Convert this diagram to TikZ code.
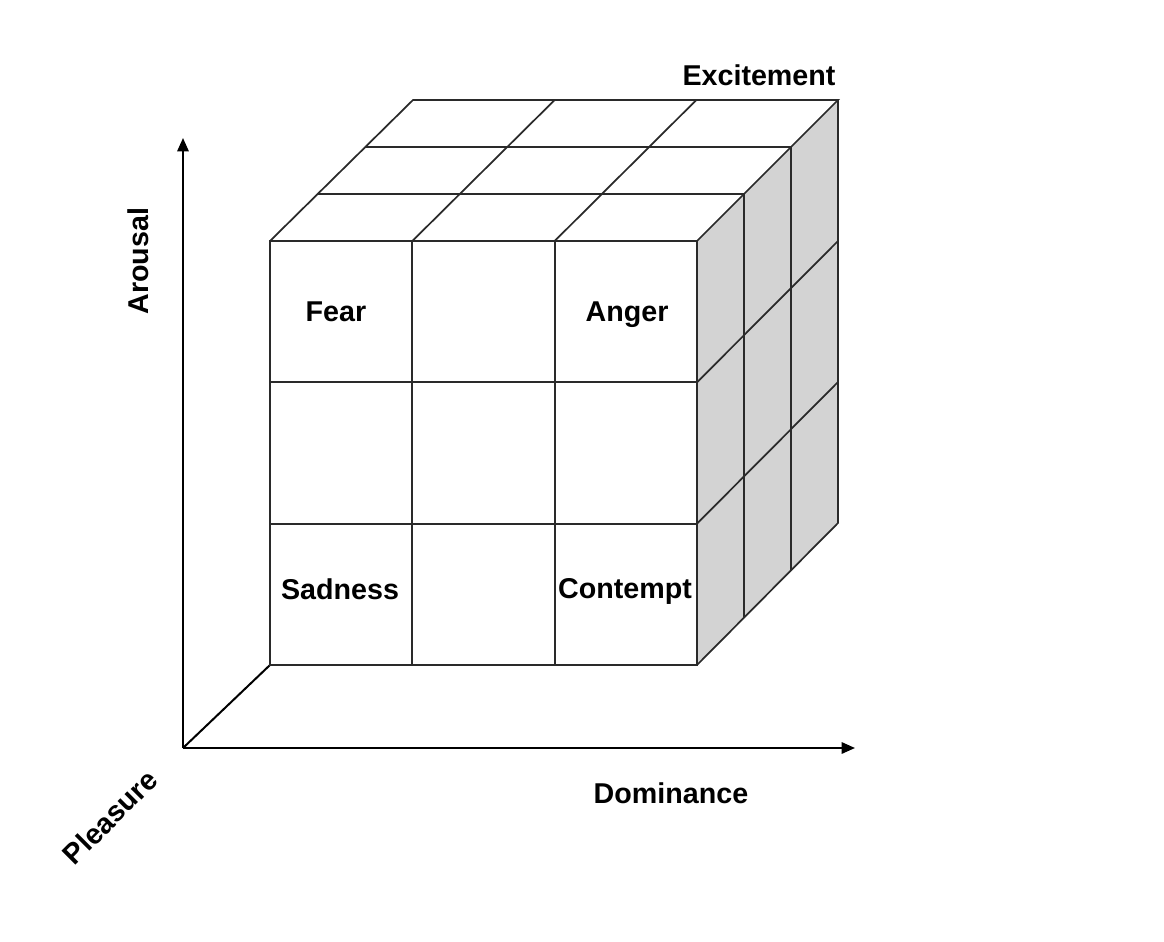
\documentclass[tikz,border=0pt]{standalone}
\usepackage{fontspec}
\setmainfont{Liberation Sans}
\usetikzlibrary{arrows.meta,calc}
\definecolor{side}{HTML}{D3D3D3}
\definecolor{edge}{HTML}{2A2A2A}
\begin{document}
\begin{tikzpicture}[x=0.75pt,y=-0.75pt,
  cube/.style={line width=1.3pt, draw=edge, line join=miter},
  axisline/.style={line width=1.5pt, draw=black, -{Triangle[length=10pt,width=8.5pt]}},
  lbl/.style={font=\bfseries\fontsize{21.5}{25}\selectfont, inner sep=0pt},
  blbl/.style={lbl, anchor=base}]
\useasboundingbox (0,0) rectangle (1164,942);
% cube corners
\coordinate (A) at (270,241);
\coordinate (B) at (697,241);
\coordinate (C) at (697,665);
\coordinate (D) at (270,665);
\coordinate (E) at (413,100);
\coordinate (G) at (838,100);
\coordinate (H) at (838,523);
% axes
\coordinate (O) at (183,748);
\coordinate (Ytip) at (183,138);
\coordinate (Xtip) at (855,748);
\draw[axisline] (O) -- (Ytip);
\draw[axisline] (O) -- (Xtip);
\draw[line width=1.5pt] (O) -- (D);
% right face
\fill[side] (B) -- (G) -- (H) -- (C) -- cycle;
\foreach \i in {1,2}{
  \draw[cube] ($(A)!\i/3!(B)$) -- ($(D)!\i/3!(C)$);
  \draw[cube] ($(A)!\i/3!(D)$) -- ($(B)!\i/3!(C)$);
  \draw[cube] ($(A)!\i/3!(B)$) -- ($(E)!\i/3!(G)$);
  \draw[cube] ($(A)!\i/3!(E)$) -- ($(B)!\i/3!(G)$);
  \draw[cube] ($(B)!\i/3!(G)$) -- ($(C)!\i/3!(H)$);
  \draw[cube] ($(B)!\i/3!(C)$) -- ($(G)!\i/3!(H)$);
}
\draw[cube] (A) -- (B) -- (C) -- (D) -- cycle;
\draw[cube] (A) -- (E) -- (G) -- (B);
\draw[cube] (G) -- (H) -- (C);
% labels
\node[blbl] (fear) at (336,321) {Fear};
\node[blbl] (anger) at (627,321) {Anger};
\node[blbl] (sadness) at (340,599) {Sadness};
\node[blbl] (contempt) at (625,598) {Contempt};
\node[blbl] (excitement) at (759,86) {Excitement};
\node[blbl] (dominance) at (671,803) {Dominance};
\node[lbl, rotate=90] (arousal) at (138,261) {Arousal};
\node[lbl, rotate=45] (pleasure) at (110,817) {Pleasure};
\end{tikzpicture}
\end{document}
